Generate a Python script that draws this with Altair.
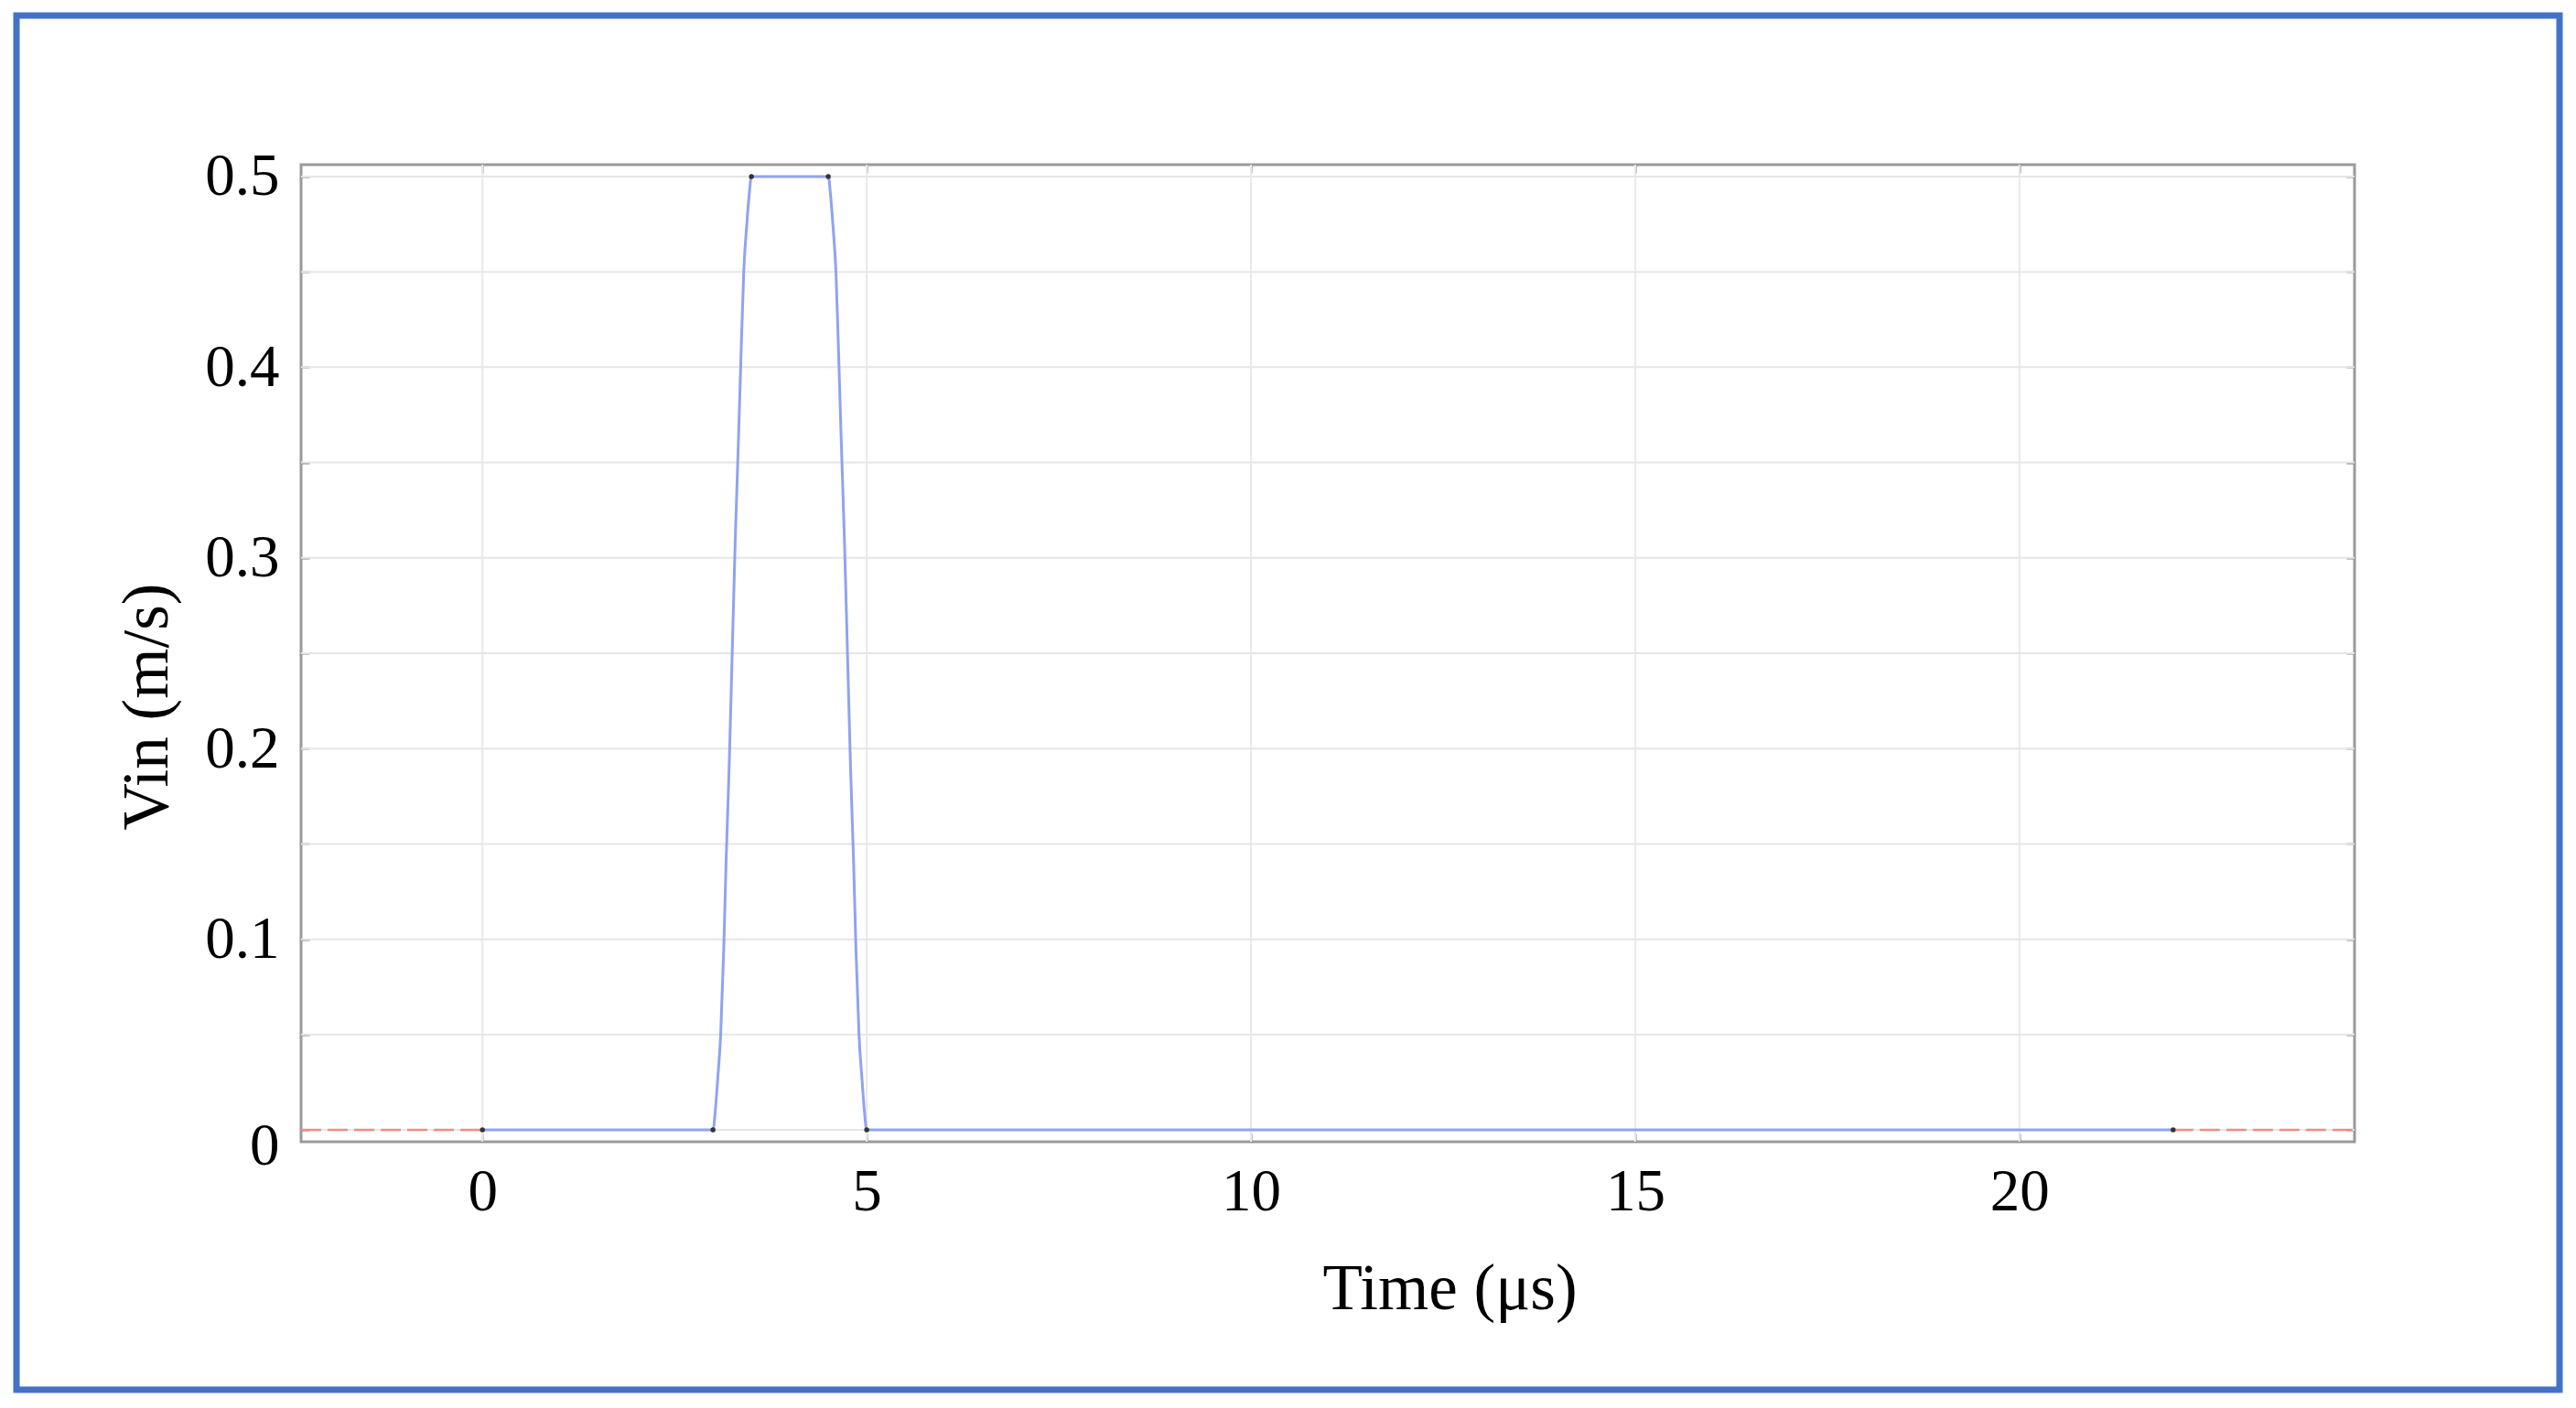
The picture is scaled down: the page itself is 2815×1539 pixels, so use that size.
import altair as alt
import pandas as pd

# ---- data ----
time_us = [0, 3.0, 3.03, 3.06, 3.10, 3.14, 3.17, 3.21, 3.25, 3.29, 3.33, 3.36, 3.40, 3.44, 3.47, 3.50,
           4.50, 4.53, 4.56, 4.60, 4.64, 4.67, 4.71, 4.75, 4.79, 4.83, 4.86, 4.90, 4.94, 4.97, 5.00, 22.0]
vin = [0, 0, 0.01, 0.026, 0.05, 0.095, 0.14, 0.19, 0.25, 0.31, 0.36, 0.40, 0.45, 0.475, 0.49, 0.5,
       0.5, 0.49, 0.475, 0.45, 0.40, 0.36, 0.31, 0.25, 0.19, 0.14, 0.095, 0.05, 0.026, 0.01, 0, 0]

marker_t = [0, 3.0, 3.5, 4.5, 5.0, 22.0]
marker_v = [0, 0, 0.5, 0.5, 0, 0]

extrap_t = [-2.36, 0, 22.0, 24.36]
extrap_v = [0, 0, 0, 0]
extrap_side = ["left", "left", "right", "right"]

x_ticks = [0, 5, 10, 15, 20]
y_ticks = [0, 0.05, 0.1, 0.15, 0.2, 0.25, 0.3, 0.35, 0.4, 0.45, 0.5]

x_domain = [-2.36, 24.36]
y_domain = [-0.0062, 0.5062]

FONT = "Liberation Serif"
W, H = 2244, 1068

line_df = pd.DataFrame({"t": time_us, "v": vin})
mark_df = pd.DataFrame({"t": marker_t, "v": marker_v})
ext_df = pd.DataFrame({"t": extrap_t, "v": extrap_v, "side": extrap_side})
gx_df = pd.DataFrame({"gx": x_ticks})
gy_df = pd.DataFrame({"gy": y_ticks})

xs = alt.Scale(domain=x_domain, nice=False, zero=False)
ys = alt.Scale(domain=y_domain, nice=False, zero=False)

grid_x = alt.Chart(gx_df).mark_rule(color="#e9e9e9", strokeWidth=2).encode(
    x=alt.X("gx:Q", scale=xs, axis=None))
grid_y = alt.Chart(gy_df).mark_rule(color="#e6e6e6", strokeWidth=2).encode(
    y=alt.Y("gy:Q", scale=ys, axis=None))

label_expr = ("abs(datum.value*10 - round(datum.value*10)) < 0.001 ? "
              "(datum.value == 0 ? '0' : format(datum.value, '.1f')) : ''")

main_line = alt.Chart(line_df).mark_line(color="#8fa3ef", strokeWidth=3, interpolate="monotone").encode(
    x=alt.X("t:Q", scale=xs, axis=alt.Axis(
        title="Time (μs)", values=x_ticks, format="d", orient="bottom",
        offset=-9, tickSize=9, tickWidth=2, tickColor="#8a8a8a", domain=False, grid=False,
        labelFont=FONT, labelFontSize=65, labelColor="#000", labelBaseline="alphabetic",
        labelPadding=74, labelFlush=False, labelOverlap=False,
        titleFont=FONT, titleFontSize=71, titleFontWeight="normal", titleColor="#000",
        titleX=1255, titleY=191, titleBaseline="alphabetic", titleAlign="center")),
    y=alt.Y("v:Q", scale=ys, axis=alt.Axis(
        title="Vin (m/s)", values=y_ticks, labelExpr=label_expr, orient="left",
        offset=-9, tickSize=9, tickWidth=2, tickColor="#8a8a8a", domain=False, grid=False,
        labelFont=FONT, labelFontSize=65, labelColor="#000", labelPadding=24,
        labelFlush=False, labelOverlap=False,
        labelOffset={"condition": {"test": "datum.value == 0", "value": 17}, "value": 0},
        titleFont=FONT, titleFontSize=71, titleFontWeight="normal", titleColor="#000",
        titleAngle=270, titleX=-177, titleY=592, titleAlign="center", titleBaseline="middle")),
)

ext_line = alt.Chart(ext_df).mark_line(color="#f08a8a", strokeWidth=2.5, strokeDash=[22, 7]).encode(
    x=alt.X("t:Q", scale=xs, axis=None),
    y=alt.Y("v:Q", scale=ys, axis=None),
    detail="side:N",
)

markers = alt.Chart(mark_df).mark_circle(color="#333333", size=30, opacity=1).encode(
    x=alt.X("t:Q", scale=xs, axis=None),
    y=alt.Y("v:Q", scale=ys, axis=None),
)

opp_ticks = alt.Chart(mark_df).mark_point(opacity=0).encode(
    x=alt.X("t:Q", scale=xs, axis=alt.Axis(
        title=None, values=x_ticks, labels=False, orient="top", offset=-9, tickSize=9,
        tickWidth=2, tickColor="#8a8a8a", domain=False, grid=False)),
    y=alt.Y("v:Q", scale=ys, axis=alt.Axis(
        title=None, values=y_ticks, labels=False, orient="right", offset=-9, tickSize=9,
        tickWidth=2, tickColor="#8a8a8a", domain=False, grid=False)),
)

border = alt.Chart(pd.DataFrame({"k": [1]})).mark_rect(
    filled=False, stroke="#4472C4", strokeWidth=7, clip=False).encode(
    x=alt.value(-311), x2=alt.value(2468), y=alt.value(-163), y2=alt.value(1339))

chart = alt.layer(grid_x, grid_y, ext_line, main_line, markers, opp_ticks, border).resolve_axis(
    x="independent", y="independent"
).properties(
    width=W, height=H,
    padding={"left": 321, "top": 172, "right": 234, "bottom": 285},
    autosize=alt.AutoSizeParams(type="none"),
    background="white",
).configure_view(stroke="#9a9a9a", strokeWidth=3)

chart.save("out.html", embed_options={"renderer": "svg", "actions": False})
